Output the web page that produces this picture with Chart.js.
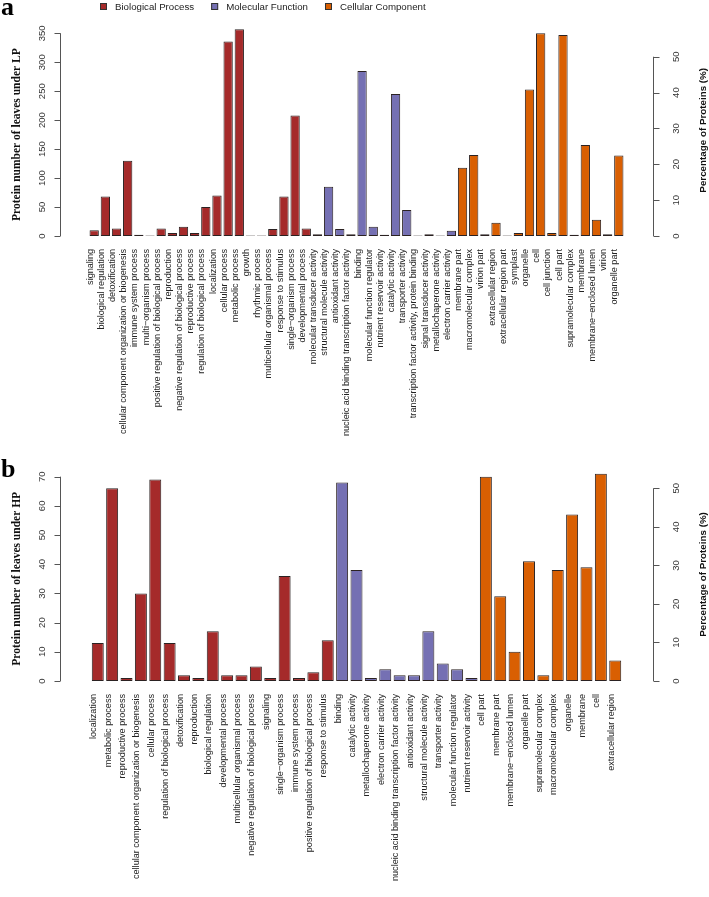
<!DOCTYPE html>
<html>
<head>
<meta charset="utf-8">
<script src="https://cdn.jsdelivr.net/npm/chart.js@4.4.1/dist/chart.umd.min.js"></script>
<style>
  body { margin: 0; background: #fff; width: 709px; height: 897px; position: relative; overflow: hidden; }
  .panel { position: absolute; left: 0; width: 709px; }
  #wrapA { top: 0; height: 456px; }
  #wrapB { top: 450px; height: 447px; }
</style>
</head>
<body>
<div class="panel" id="wrapA"><canvas id="chartA" width="709" height="456"></canvas></div>
<div class="panel" id="wrapB"><canvas id="chartB" width="709" height="447"></canvas></div>
<script>
// ---- panel a (LP) ----
const lpBioLabels = ['signaling', 'biological regulation', 'detoxification',
  'cellular component organization or biogenesis', 'immune system process', 'multi\u2212organism process',
  'positive regulation of biological process', 'reproduction', 'negative regulation of biological process',
  'reproductive process', 'regulation of biological process', 'localization', 'cellular process',
  'metabolic process', 'growth', 'rhythmic process', 'multicellular organismal process',
  'response to stimulus', 'single\u2212organism process', 'developmental process'];
const lpBioValues = [10, 68, 13, 130, 2, 1, 13, 5, 16, 5, 50, 70, 336, 357, 1, 1, 12, 68, 208, 13];

const lpMolLabels = ['molecular transducer activity', 'structural molecule activity', 'antioxidant activity',
  'nucleic acid binding transcription factor activity', 'binding', 'molecular function regulator',
  'nutrient reservoir activity', 'catalytic activity', 'transporter activity',
  'transcription factor activity, protein binding', 'signal transducer activity',
  'metallochaperone activity', 'electron carrier activity'];
const lpMolValues = [3, 85, 12, 3, 285, 16, 2, 245, 45, 1, 3, 1, 9];

const lpCellLabels = ['membrane part', 'macromolecular complex', 'virion part', 'extracellular region',
  'extracellular region part', 'symplast', 'organelle', 'cell', 'cell junction', 'cell part',
  'supramolecular complex', 'membrane', 'membrane\u2212enclosed lumen', 'virion', 'organelle part'];
const lpCellValues = [118, 140, 3, 23, 1, 5, 253, 350, 5, 347, 2, 157, 28, 3, 139];

const lpTotal = 619;
const lpLeftTicks = [0, 50, 100, 150, 200, 250, 300, 350];
const lpRightTicks = [0, 10, 20, 30, 40, 50];

// ---- panel b (HP) ----
const hpBioLabels = ['localization', 'metabolic process', 'reproductive process',
  'cellular component organization or biogenesis', 'cellular process', 'regulation of biological process',
  'detoxification', 'reproduction', 'biological regulation', 'developmental process',
  'multicellular organismal process', 'negative regulation of biological process', 'signaling',
  'single\u2212organism process', 'immune system process', 'positive regulation of biological process',
  'response to stimulus'];
const hpBioValues = [13, 66, 1, 30, 69, 13, 2, 1, 17, 2, 2, 5, 1, 36, 1, 3, 14];

const hpMolLabels = ['binding', 'catalytic activity', 'metallochaperone activity', 'electron carrier activity',
  'nucleic acid binding transcription factor activity', 'antioxidant activity', 'structural molecule activity',
  'transporter activity', 'molecular function regulator', 'nutrient reservoir activity'];
const hpMolValues = [68, 38, 1, 4, 2, 2, 17, 6, 4, 1];

const hpCellLabels = ['cell part', 'membrane part', 'membrane\u2212enclosed lumen', 'organelle part',
  'supramolecular complex', 'macromolecular complex', 'organelle', 'membrane', 'cell', 'extracellular region'];
const hpCellValues = [70, 29, 10, 41, 2, 38, 57, 39, 71, 7];

const hpTotal = 132;
const hpLeftTicks = [0, 10, 20, 30, 40, 50, 60, 70];
const hpRightTicks = [0, 10, 20, 30, 40, 50];

const groupNames = ['Biological Process', 'Molecular Function', 'Cellular Component'];
const groupColors = ['#A52A2A', '#7570B3', '#D95F02'];

const SANS = "'Liberation Sans', Arial, Helvetica, sans-serif";
const SERIF = "'Liberation Serif', 'Times New Roman', serif";
const LABEL_SIZE = 9.1;

// draws R-style axes, titles, panel letter and legend
const rAxesPlugin = {
  id: 'rAxes',
  afterDraw(chart, args, o) {
    const ctx = chart.ctx;
    const area = chart.chartArea;
    const yL = chart.scales.y, yR = chart.scales.y2;
    ctx.save();
    ctx.strokeStyle = '#555';
    ctx.lineWidth = 1;
    ctx.fillStyle = '#333';
    ctx.font = '9.5px ' + SANS;
    ctx.textAlign = 'center';
    ctx.textBaseline = 'alphabetic';

    // left axis
    const lx = Math.round(area.left) + 0.5;
    const lTop = yL.getPixelForValue(o.leftTicks[o.leftTicks.length - 1]);
    const lBot = yL.getPixelForValue(o.leftTicks[0]);
    ctx.beginPath();
    ctx.moveTo(lx, lTop); ctx.lineTo(lx, lBot);
    o.leftTicks.forEach(t => {
      const py = Math.round(yL.getPixelForValue(t)) + 0.5;
      ctx.moveTo(lx, py); ctx.lineTo(lx - 6, py);
    });
    ctx.stroke();
    o.leftTicks.forEach(t => {
      const py = yL.getPixelForValue(t);
      ctx.save(); ctx.translate(45, py); ctx.rotate(-Math.PI / 2);
      ctx.fillText(String(t), 0, 0); ctx.restore();
    });

    // right axis
    const rx = Math.round(area.right) + 0.5;
    const rTop = yR.getPixelForValue(o.rightTicks[o.rightTicks.length - 1]);
    const rBot = yR.getPixelForValue(o.rightTicks[0]);
    ctx.beginPath();
    ctx.moveTo(rx, rTop); ctx.lineTo(rx, rBot);
    o.rightTicks.forEach(t => {
      const py = Math.round(yR.getPixelForValue(t)) + 0.5;
      ctx.moveTo(rx, py); ctx.lineTo(rx + 6, py);
    });
    ctx.stroke();
    o.rightTicks.forEach(t => {
      const py = yR.getPixelForValue(t);
      ctx.save(); ctx.translate(679, py); ctx.rotate(-Math.PI / 2);
      ctx.fillText(String(t), 0, 0); ctx.restore();
    });

    // axis titles
    ctx.fillStyle = '#111';
    ctx.font = 'bold 11.5px ' + SERIF;
    ctx.save(); ctx.translate(20, (lTop + lBot) / 2); ctx.rotate(-Math.PI / 2);
    ctx.fillText(o.leftTitle, 0, 0); ctx.restore();
    ctx.font = 'bold 9.8px ' + SANS;
    ctx.save(); ctx.translate(706, (area.top + area.bottom) / 2); ctx.rotate(-Math.PI / 2);
    ctx.fillText(o.rightTitle, 0, 0); ctx.restore();

    // panel letter
    ctx.textAlign = 'left';
    ctx.font = 'bold 26px ' + SERIF;
    ctx.fillStyle = '#000';
    ctx.fillText(o.letter, 1, o.letterY);

    // legend
    if (o.legend) {
      ctx.font = '9.7px ' + SANS;
      ctx.textBaseline = 'middle';
      let x = 100;
      groupNames.forEach((name, gi) => {
        ctx.fillStyle = groupColors[gi];
        ctx.fillRect(x, 3, 7, 7);
        ctx.strokeStyle = '#333';
        ctx.strokeRect(x + 0.5, 3.5, 6, 6);
        ctx.fillStyle = '#222';
        ctx.fillText(name, x + 15, 7);
        x += 15 + ctx.measureText(name).width + 17;
      });
    }
    ctx.restore();
  }
};

function buildPanel(canvasId, groups, cfg) {
  const labels = [];
  const points = [];
  const colors = [];
  groups.forEach((g, gi) => {
    g.values.forEach((v, j) => {
      points.push({ x: 0.7 + 1.2 * labels.length, y: v });
      labels.push(g.labels[j]);
      colors.push(groupColors[gi]);
    });
  });
  const span = labels.length * 1.2 + 0.2;

  return new Chart(document.getElementById(canvasId), {
    type: 'bar',
    data: {
      datasets: [{
        data: points,
        backgroundColor: colors,
        borderColor: '#2b2222',
        borderWidth: 1,
        borderSkipped: false,
        barPercentage: 1 / 1.2,
        categoryPercentage: 1,
        yAxisID: 'y'
      }]
    },
    options: {
      responsive: false,
      animation: false,
      layout: { padding: { left: 60, right: 56, top: cfg.padTop, bottom: 0 } },
      plugins: {
        legend: { display: false },
        tooltip: { enabled: false },
        rAxes: {
          leftTicks: cfg.leftTicks, rightTicks: cfg.rightTicks,
          leftTitle: cfg.leftTitle, rightTitle: 'Percentage of Proteins (%)',
          letter: cfg.letter, letterY: cfg.letterY, legend: cfg.legend
        }
      },
      scales: {
        x: {
          type: 'linear',
          min: -0.04 * span,
          max: 1.04 * span,
          grid: { display: false, drawTicks: false },
          border: { display: false },
          afterBuildTicks: s => { s.ticks = labels.map((_, i) => ({ value: 0.7 + 1.2 * i })); },
          afterFit: s => { s.height = cfg.xAxisHeight; },
          ticks: {
            autoSkip: false,
            minRotation: 90,
            maxRotation: 90,
            padding: 13,
            // rotated labels are pushed half a line right; pull them back onto the bar centre
            labelOffset: -LABEL_SIZE * 1.2 / 2 + 1.5,
            color: '#222',
            font: { family: SANS, size: LABEL_SIZE },
            callback: (v, i) => labels[i]
          }
        },
        y: { display: false, min: 0, max: cfg.yMax },
        y2: { display: false, position: 'right', min: 0, max: cfg.yMax * 100 / cfg.total }
      }
    },
    plugins: [rAxesPlugin]
  });
}

buildPanel('chartA', [
  { labels: lpBioLabels, values: lpBioValues },
  { labels: lpMolLabels, values: lpMolValues },
  { labels: lpCellLabels, values: lpCellValues }
], {
  yMax: 365, total: lpTotal, padTop: 24.6, xAxisHeight: 220,
  leftTicks: lpLeftTicks, rightTicks: lpRightTicks,
  leftTitle: 'Protein number of leaves under LP', letter: 'a', letterY: 15, legend: true
});

buildPanel('chartB', [
  { labels: hpBioLabels, values: hpBioValues },
  { labels: hpMolLabels, values: hpMolValues },
  { labels: hpCellLabels, values: hpCellValues }
], {
  yMax: 73, total: hpTotal, padTop: 17.9, xAxisHeight: 216,
  leftTicks: hpLeftTicks, rightTicks: hpRightTicks,
  leftTitle: 'Protein number of leaves under HP', letter: 'b', letterY: 27, legend: false
});
</script>
</body>
</html>
